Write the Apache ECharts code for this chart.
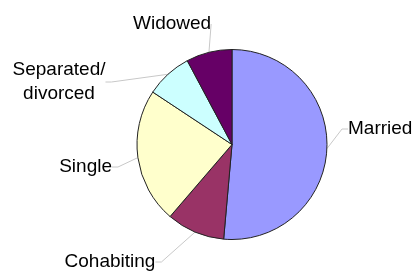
<!DOCTYPE html>
<html>
<head>
<meta charset="utf-8">
<script src="https://cdn.jsdelivr.net/npm/echarts@6/dist/echarts.min.js"></script>
<style>
  html, body { margin: 0; padding: 0; background: #fff; }
  #chart { width: 419px; height: 271px; }
</style>
</head>
<body>
<div id="chart"></div>
<script>
// marital status shares (%)
var categories = ['Married', 'Cohabiting', 'Single', 'Separated/\ndivorced', 'Widowed'];
var shares = [51.4, 9.9, 23.0, 7.9, 7.8];
var colors = ['#9999ff', '#993366', '#ffffcc', '#ccffff', '#660066'];

// where each label sits (text anchor), in the order of categories
var labelSpots = [
  { x: 348, y: 129, align: 'left' },
  { x: 110, y: 262, align: 'center' },
  { x: 112, y: 167, align: 'right' },
  { x: 59, y: 82, align: 'center' },
  { x: 133, y: 24, align: 'left' }
];

var chart = echarts.init(document.getElementById('chart'));

var option = {
  animation: false,
  series: [{
    type: 'pie',
    center: [232, 144.5],
    radius: 95,
    startAngle: 90,
    clockwise: true,
    avoidLabelOverlap: false,
    data: categories.map(function (c, i) {
      return { name: c, value: shares[i], itemStyle: { color: colors[i] } };
    }),
    itemStyle: { borderColor: '#222', borderWidth: 1 },
    label: {
      show: true,
      position: 'outside',
      formatter: '{b}',
      color: '#000',
      fontFamily: 'Liberation Sans, Arial, sans-serif',
      fontSize: 19,
      lineHeight: 24
    },
    labelLine: {
      show: true,
      length: 10,
      length2: 6,
      lineStyle: { color: '#c8c8c8', width: 1 }
    },
    labelLayout: function (params) {
      var s = labelSpots[params.dataIndex];
      return { x: s.x, y: s.y, align: s.align, verticalAlign: 'middle' };
    },
    emphasis: { disabled: true }
  }]
};

chart.setOption(option);
</script>
</body>
</html>
